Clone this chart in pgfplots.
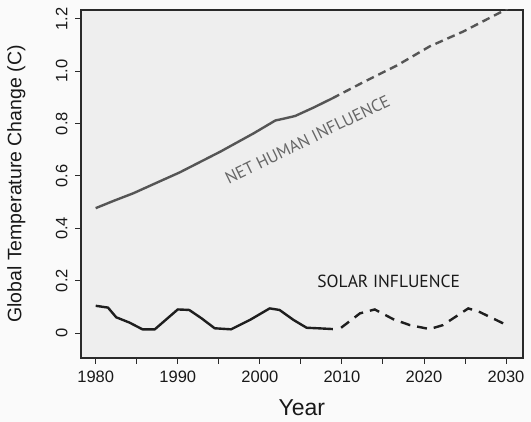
\documentclass[border=0pt]{standalone}
\usepackage{pgfplots}
\pgfplotsset{compat=1.18}
\usepackage{fontspec}
\setmainfont{Liberation Sans}
\newfontfamily\annfont{PT Sans}
\definecolor{bgout}{HTML}{FAFAFA}
\definecolor{bgin}{HTML}{EEEEEE}
\definecolor{frame}{HTML}{2A2A2A}
\definecolor{human}{HTML}{555555}
\definecolor{solar}{HTML}{1E1E1E}
\begin{document}
\begin{tikzpicture}[x=1pt,y=1pt]
\fill[bgout] (0,0) rectangle (531,422);
\useasboundingbox (0,0) rectangle (531,422);
\begin{axis}[
  at={(81pt,64pt)}, anchor=south west,
  width=441.7pt, height=348pt, scale only axis,
  xmin=1978.21, xmax=2032.03, ymin=-0.0955, ymax=1.234,
  axis background/.style={fill=bgin},
  axis line style={frame, line width=1.6pt},
  tick align=outside, tick style={frame, line width=0.9pt},
  major tick length=6pt,
  xtick={1980,1985,...,2030},
  xticklabels={1980,,1990,,2000,,2010,,2020,,2030},
  ytick={0,0.2,0.4,0.6,0.8,1.0,1.2},
  yticklabels={0,0.2,0.4,0.6,0.8,1.0,1.2},
  xtick pos=bottom, ytick pos=left,
  ticklabel style={font=\fontsize{16.5}{18}\selectfont, text=black!90},
  xticklabel style={yshift=-3pt},
  yticklabel style={rotate=90, anchor=south, yshift=4pt},
  /pgf/number format/assume math mode=true,
  xlabel={Year},
  ylabel={Global Temperature Change (C)},
  xlabel style={font=\fontsize{23}{26}\selectfont, text=black!90, at={(axis description cs:0.5,0)}, anchor=north, yshift=-38pt},
  ylabel style={font=\fontsize{19.5}{22}\selectfont, text=black!90, at={(axis description cs:0,0.5)}, anchor=south, yshift=52pt},
  clip=true,
]
% Net human influence (solid, observed)
\addplot[human, line width=2.4pt, line join=round] coordinates {
(1980,0.477)(1982.2,0.505)(1984.6,0.534)(1987,0.568)(1990.2,0.613)(1995.2,0.693)(1999.2,0.762)(2001.9,0.812)(2002.8,0.818)(2004.3,0.829)(2006.6,0.862)(2008.8,0.896)
};
% Net human influence (dashed, projected)
\addplot[human, line width=2.4pt, dash pattern=on 8pt off 5pt] coordinates {
(2008.8,0.896)(2012.6,0.958)(2016.7,1.022)(2020.7,1.095)(2024.8,1.152)(2029.5,1.228)(2030.2,1.240)
};
% Solar influence (solid)
\addplot[solar, line width=2.4pt, line join=round] coordinates {
(1980,0.104)(1981.5,0.097)(1982.5,0.06)(1984.1,0.04)(1985.7,0.014)(1987.2,0.014)(1990.0,0.09)(1991.4,0.088)(1992.9,0.056)(1994.5,0.018)(1996.5,0.014)(1998.8,0.05)(2001.2,0.094)(2002.4,0.088)(2004.1,0.05)(2005.7,0.02)(2007.1,0.018)(2008.9,0.015)
};
% Solar influence (dashed)
\addplot[solar, line width=2.4pt, dash pattern=on 10pt off 7pt] coordinates {
(2009.9,0.02)(2012.2,0.075)(2014.0,0.09)(2016.3,0.052)(2018.3,0.03)(2020.7,0.015)(2022.3,0.03)(2025.4,0.094)(2026.8,0.08)(2030.1,0.03)
};
\node[font=\annfont\fontsize{17.5}{20}\selectfont, text=black!90, inner sep=0pt] at (axis cs:2015.7,0.196) {SOLAR INFLUENCE};
\node[font=\annfont\fontsize{17}{20}\selectfont, text=black!60, rotate=26, inner sep=0pt] at (axis cs:2005.8,0.740) {NET HUMAN INFLUENCE};
\end{axis}
\end{tikzpicture}
\end{document}
